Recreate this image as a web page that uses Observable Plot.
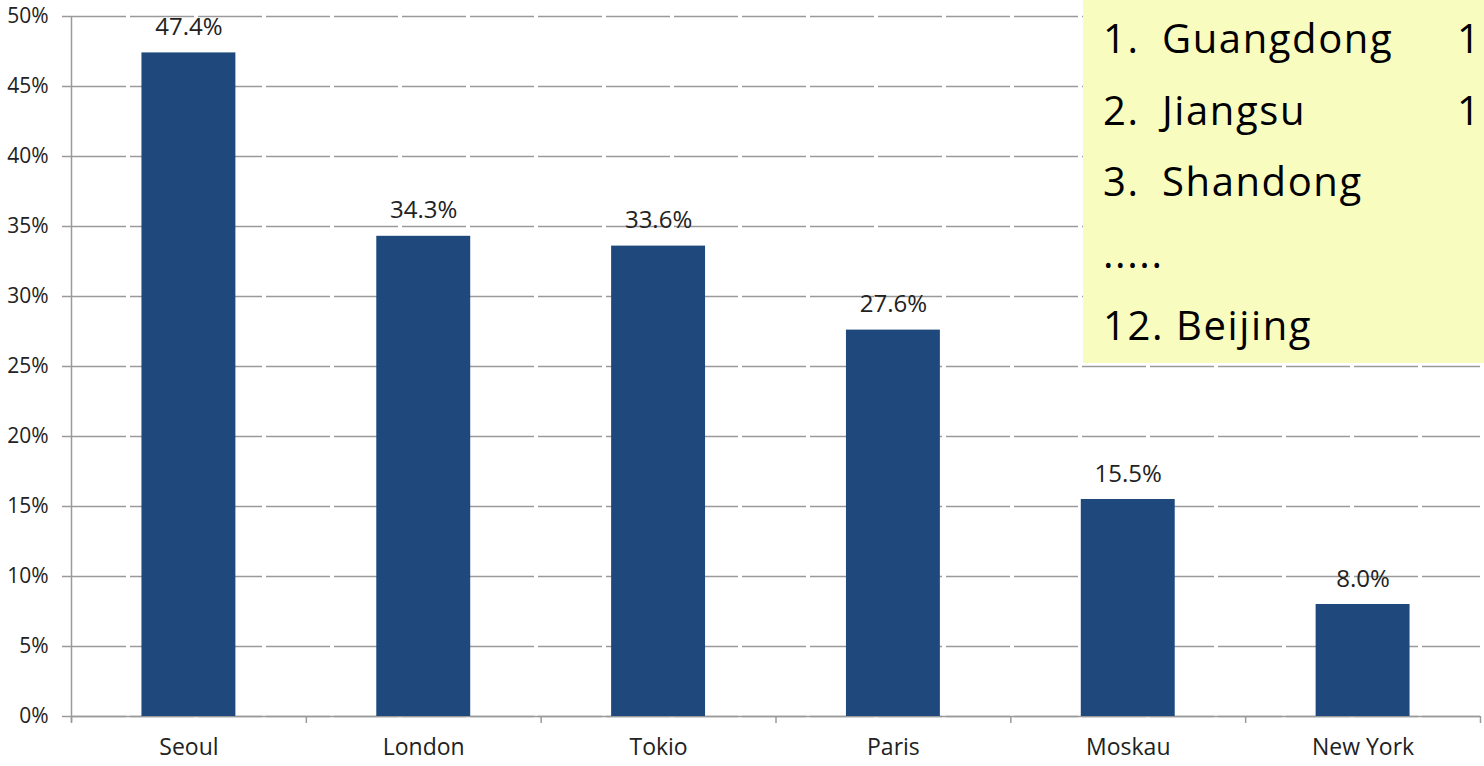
<!DOCTYPE html>
<html>
<head>
<meta charset="utf-8">
<script src="https://cdn.jsdelivr.net/npm/d3@7"></script>
<script src="https://cdn.jsdelivr.net/npm/@observablehq/plot@0.6"></script>
<style>
  html, body { margin: 0; padding: 0; background: #fff; overflow: hidden; }
  #wrap { position: relative; width: 1484px; height: 766px; }
  #note {
    position: absolute; left: 1083px; top: 0; width: 401px; height: 363px;
    background: #F9FCBF; font-family: "Open Sans", sans-serif; font-size: 40px; color: #000;
    letter-spacing: 1.6px; overflow: hidden;
  }
  #note .row { position: absolute; left: 20px; white-space: pre; line-height: 1; }
  #note .num { position: absolute; left: 0; }
  #note .name { position: absolute; left: 59px; }
  #note .val { position: absolute; left: 354px; letter-spacing: 0; }
</style>
</head>
<body>
<div id="wrap">
  <div id="chart"></div>
  <div id="note"></div>
</div>
<script>
const cities = ["Seoul", "London", "Tokio", "Paris", "Moskau", "New York"];
const shares = [47.4, 34.3, 33.6, 27.6, 15.5, 8.0];
const yTicks = [0, 5, 10, 15, 20, 25, 30, 35, 40, 45, 50];
const rankNums = ["1.", "2.", "3.", ".....", "12."];
const rankNames = ["Guangdong", "Jiangsu", "Shandong", "", "Beijing"];
const rankVals = ["1", "1", "", "", ""];

const data = cities.map((c, i) => ({i, city: c, v: shares[i]}));
const bounds = d3.range(0, cities.length + 1);
const centers = cities.map((c, i) => i + 0.5);
const gridColor = "#9a9a9a";

const chart = Plot.plot({
  width: 1484, height: 766,
  marginLeft: 71, marginRight: 4, marginTop: 16, marginBottom: 50,
  x: {type: "linear", domain: [0, cities.length], axis: null},
  y: {type: "linear", domain: [0, 50], axis: null, label: null},
  style: {fontFamily: "Open Sans, sans-serif", fontSize: "21px", color: "#222", background: "transparent"},
  marks: [
    Plot.ruleY(yTicks, {stroke: gridColor, strokeWidth: 1.5, strokeDasharray: "64,4", insetLeft: -9}),
    Plot.axisY({ticks: yTicks, tickFormat: d => d + "%", tickSize: 0, tickPadding: 23, fontSize: 21, fill: "#222", label: null}),
    Plot.ruleX([0], {stroke: gridColor, strokeWidth: 1.5, insetBottom: -6}),
    Plot.ruleY([0], {stroke: gridColor, strokeWidth: 1.5}),
    Plot.ruleX(bounds, {x: d => d, y1: 0, y2: 0, stroke: gridColor, strokeWidth: 1.5, insetBottom: -7}),
    Plot.axisX({ticks: centers, tickFormat: d => cities[Math.round(d - 0.5)], tickSize: 0, tickPadding: 22, fontSize: 23, fill: "#222", label: null}),
    Plot.rectY(data, {x1: d => d.i + 0.3, x2: d => d.i + 0.7, y: "v", fill: "#1F497D"}),
    Plot.text(data, {x: d => d.i + 0.5, y: "v", text: d => d.v.toFixed(1) + "%", dy: -18, lineAnchor: "bottom", fontSize: 24, fill: "#222"})
  ]
});
document.getElementById("chart").appendChild(chart);

const note = document.getElementById("note");
rankNums.forEach((n, k) => {
  const row = document.createElement("div");
  row.className = "row";
  row.style.top = (18 + k * 71.7) + "px";
  if (rankNames[k] === "" ) {
    row.innerHTML = `<span class="num">${n}</span>`;
  } else if (n.length > 2) {
    row.innerHTML = `<span class="num">${n} ${rankNames[k]}</span>`;
  } else {
    row.innerHTML = `<span class="num">${n}</span><span class="name">${rankNames[k]}</span>` +
      (rankVals[k] ? `<span class="val">${rankVals[k]}</span>` : "");
  }
  note.appendChild(row);
});
</script>
</body>
</html>
